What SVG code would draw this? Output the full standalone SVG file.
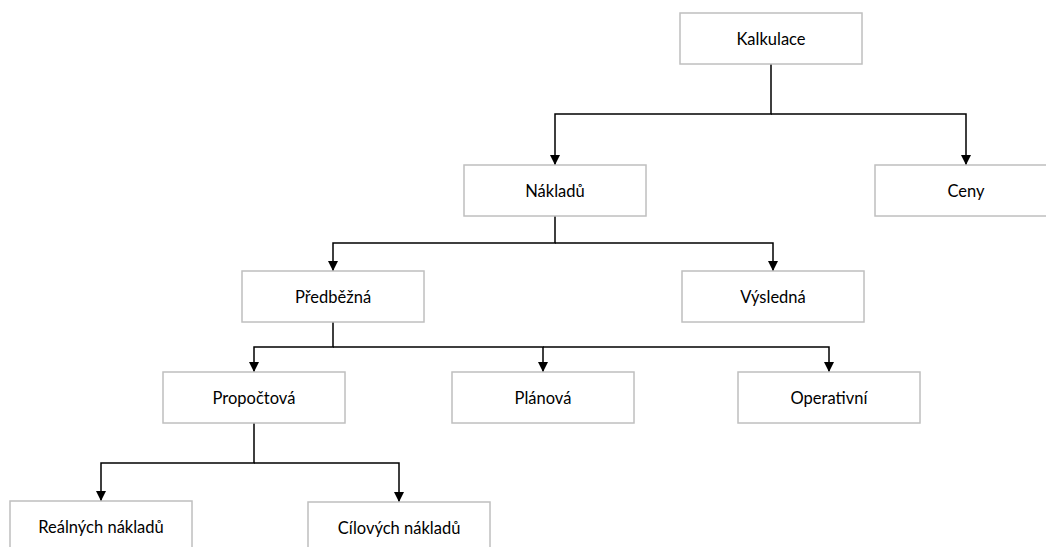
<svg xmlns="http://www.w3.org/2000/svg" width="1046" height="547" viewBox="0 0 1046 547">
<style>
.box{fill:#ffffff;stroke:#bfbfbf;stroke-width:1.5}
.lbl{font-family:Lato,"Open Sans","Liberation Sans",sans-serif;font-size:16.5px;fill:#000;text-anchor:middle;dominant-baseline:central}
.con{fill:none;stroke:#000;stroke-width:1.5}
</style>
<defs>
<marker id="arr" viewBox="0 0 10 10" refX="10" refY="5" markerWidth="10" markerHeight="10" markerUnits="userSpaceOnUse" orient="auto">
<path d="M0,0 L10,5 L0,10 Z" fill="#000"/>
</marker>
</defs>
<rect width="1046" height="547" fill="#ffffff"/>
<g id="connectors">
<path class="con" d="M771,64 V114 H555 V165" marker-end="url(#arr)"/>
<path class="con" d="M771,114 H966 V165" marker-end="url(#arr)"/>
<path class="con" d="M555,216 V243 H333 V271" marker-end="url(#arr)"/>
<path class="con" d="M555,243 H773 V271" marker-end="url(#arr)"/>
<path class="con" d="M333,322 V347 H254 V372" marker-end="url(#arr)"/>
<path class="con" d="M333,347 H543 V372" marker-end="url(#arr)"/>
<path class="con" d="M543,347 H829 V372" marker-end="url(#arr)"/>
<path class="con" d="M254,423 V463 H101 V501" marker-end="url(#arr)"/>
<path class="con" d="M254,463 H399 V502" marker-end="url(#arr)"/>
</g>
<g id="kalkulace"><rect class="box" x="680" y="13" width="182" height="51"/><text class="lbl" x="771" y="38.5">Kalkulace</text></g>
<g id="nakladu"><rect class="box" x="464" y="165" width="182" height="51"/><text class="lbl" x="555" y="190.5">Nákladů</text></g>
<g id="ceny"><rect class="box" x="875" y="165" width="182" height="51"/><text class="lbl" x="966" y="190.5">Ceny</text></g>
<g id="predbezna"><rect class="box" x="242" y="271" width="182" height="51"/><text class="lbl" x="333" y="296.5">Předběžná</text></g>
<g id="vysledna"><rect class="box" x="682" y="271" width="182" height="51"/><text class="lbl" x="773" y="296.5">Výsledná</text></g>
<g id="propoctova"><rect class="box" x="163" y="372" width="182" height="51"/><text class="lbl" x="254" y="397.5">Propočtová</text></g>
<g id="planova"><rect class="box" x="452" y="372" width="182" height="51"/><text class="lbl" x="543" y="397.5">Plánová</text></g>
<g id="operativni"><rect class="box" x="738" y="372" width="182" height="51"/><text class="lbl" x="829" y="397.5">Operativní</text></g>
<g id="realnych"><rect class="box" x="10" y="501" width="182" height="51"/><text class="lbl" x="101" y="526.5">Reálných nákladů</text></g>
<g id="cilovych"><rect class="box" x="308" y="502" width="182" height="51"/><text class="lbl" x="399" y="527.5">Cílových nákladů</text></g>
</svg>
